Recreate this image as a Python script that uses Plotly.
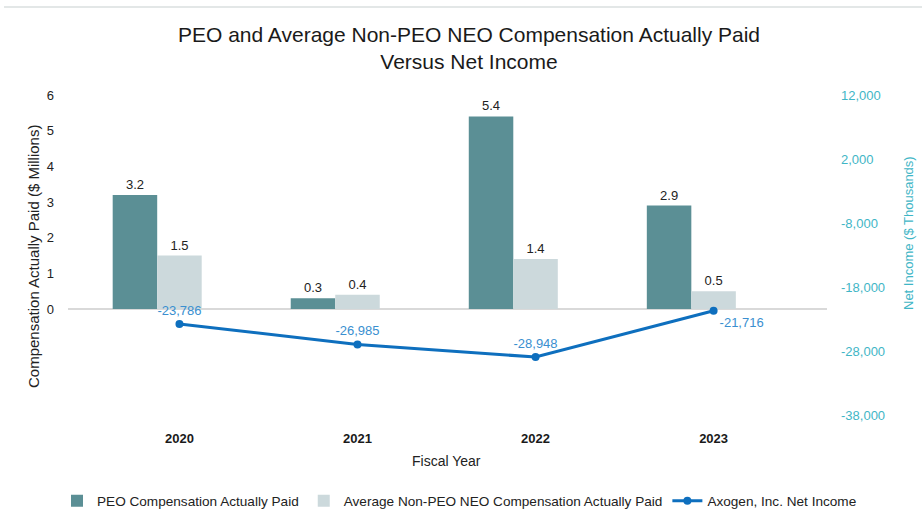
import plotly.graph_objects as go

years = ["2020", "2021", "2022", "2023"]
peo_cap = [3.2, 0.3, 5.4, 2.9]
neo_cap = [1.5, 0.4, 1.4, 0.5]
net_income = [-23786, -26985, -28948, -21716]
left_ticks = [0, 1, 2, 3, 4, 5, 6]
right_ticks = [12000, 2000, -8000, -18000, -28000, -38000]
right_ticktext = ["12,000", "2,000", "-8,000", "-18,000", "-28,000", "-38,000"]

FONT = "Liberation Sans, Arial, sans-serif"
x = list(range(len(years)))

fig = go.Figure()
fig.add_bar(
    x=x, y=peo_cap, name="PEO Compensation Actually Paid",
    width=0.25, offset=-0.375, marker=dict(color="#5b8f95", line=dict(width=0)),
    text=[f"{v:.1f}" for v in peo_cap], textposition="outside",
    textfont=dict(size=13, color="#222222", family=FONT), cliponaxis=False,
)
fig.add_bar(
    x=x, y=neo_cap, name="Average Non-PEO NEO Compensation Actually Paid",
    width=0.25, offset=-0.125, marker=dict(color="#ccd9dc", line=dict(width=0)),
    text=[f"{v:.1f}" for v in neo_cap], textposition="outside",
    textfont=dict(size=13, color="#222222", family=FONT), cliponaxis=False,
)
fig.add_scatter(
    x=x, y=net_income, name="Axogen, Inc. Net Income", yaxis="y2",
    mode="lines+markers+text",
    line=dict(color="#0e6fbe", width=3), marker=dict(color="#0e6fbe", size=8),
    text=[f"{v:,}" for v in net_income],
    textposition=["top center", "top center", "top center", "bottom right"],
    textfont=dict(size=13, color="#3a8fd0", family=FONT), cliponaxis=False,
)

L, R, T, B = 68, 95, 95, 102
W, H = 922, 517
pw, ph = W - L - R, H - T - B

def px(xp):
    return (xp - L) / pw

def py(yp):
    return (H - B - yp) / ph

fig.update_layout(
    width=W, height=H,
    margin=dict(l=L, r=R, t=T, b=B, autoexpand=False),
    paper_bgcolor="white", plot_bgcolor="white",
    font=dict(family=FONT, size=13, color="#222222"),
    title=dict(
        text="PEO and Average Non-PEO NEO Compensation Actually Paid<br>Versus Net Income",
        x=px(469), xref="paper", xanchor="center",
        y=1 - 42 / H, yref="container", yanchor="middle",
        font=dict(size=21, color="#1a1a1a", family=FONT),
    ),
    barmode="overlay",
    showlegend=True,
    legend=dict(
        orientation="h", x=px(57), xanchor="left", y=py(501), yanchor="middle",
        font=dict(size=13.6, color="#222222", family=FONT), traceorder="normal",
        itemwidth=30, bgcolor="rgba(0,0,0,0)",
    ),
    xaxis=dict(
        range=[-0.626, 3.637], tickvals=x, ticktext=[f"<b>{y}</b>" for y in years],
        showgrid=False, zeroline=False, showline=False, ticks="",
        ticklabelstandoff=14,
        tickfont=dict(size=13, color="#1a1a1a", family=FONT),
    ),
    yaxis=dict(
        range=[-2.97, 6], tickvals=left_ticks, showgrid=False,
        zeroline=True, zerolinecolor="#d9d9d9", zerolinewidth=1.5,
        showline=False, ticks="", ticklabelstandoff=13,
        tickfont=dict(size=13, color="#222222", family=FONT),
    ),
    yaxis2=dict(
        range=[-38000, 12000], tickvals=right_ticks, ticktext=right_ticktext,
        overlaying="y", side="right", showgrid=False, zeroline=False,
        showline=False, ticks="", ticklabelstandoff=13,
        tickfont=dict(size=13, color="#3fb6c6", family=FONT),
    ),
    shapes=[dict(
        type="line", xref="paper", yref="paper",
        x0=px(4), x1=px(922), y0=py(7), y1=py(7),
        line=dict(color="#e3e7e7", width=2),
    )],
    annotations=[
        dict(text="Compensation Actually Paid ($ Millions)", textangle=-90,
             x=px(33), y=py(257), xref="paper", yref="paper",
             showarrow=False, xanchor="center", yanchor="middle",
             font=dict(size=15, color="#222222", family=FONT)),
        dict(text="Net Income ($ Thousands)", textangle=-90,
             x=px(908), y=py(233), xref="paper", yref="paper",
             showarrow=False, xanchor="center", yanchor="middle",
             font=dict(size=13, color="#3fb6c6", family=FONT)),
        dict(text="Fiscal Year", x=px(446), y=py(461), xref="paper", yref="paper",
             showarrow=False, xanchor="center", yanchor="middle",
             font=dict(size=14, color="#222222", family=FONT)),
    ],
)

fig.write_html(
    "out.html",
    config={"displayModeBar": False},
    post_script="document.body.style.margin='0';document.body.style.padding='0';",
)
